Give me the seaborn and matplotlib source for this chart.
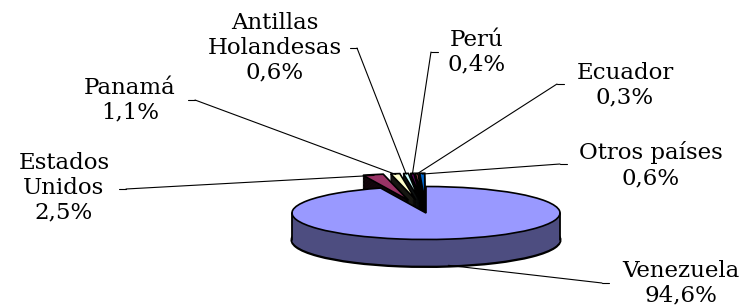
import matplotlib
matplotlib.use("Agg")
import matplotlib.pyplot as plt
import seaborn as sns
import numpy as np
from matplotlib.colors import to_rgb

sns.set_theme(style="white")
plt.rcParams['font.family'] = ['DejaVu Serif']

# data
countries = ["Venezuela", "Estados\nUnidos", "Panamá", "Antillas\nHolandesas",
             "Perú", "Ecuador", "Otros países"]
shares = [94.6, 2.5, 1.1, 0.6, 0.4, 0.3, 0.6]
pct_labels = ["94,6%", "2,5%", "1,1%", "0,6%", "0,4%", "0,3%", "0,6%"]
slice_colors = ["#9999FF", "#993366", "#FFFFCC", "#CCFFFF", "#660066", "#FF8080", "#0066CC"]
pulled_out = [0, 0.5, 0.5, 0.5, 0.5, 0.5, 0.5]

# label layout, in pixels of the 745x307 picture
label_xy = [(681, 283), (64, 188), (130, 100), (275, 48), (477, 52), (625, 85), (651, 165)]
leader_start = [(609, 283), (119, 189), (188, 100), (350, 48), (438, 52), (564, 84), (567, 164)]

W, H = 745, 307
CX, CY, SX, SY = 426, 213, 134, 26.5   # pie centre and radii in pixels
DEPTH = 27 / SY

fig = plt.figure(figsize=(W / 100, H / 100), dpi=100)
ax = fig.add_axes([0, 0, 1, 1])

side_colors = [tuple(c * 0.5 for c in to_rgb(col)) for col in slice_colors]
pie_kw = dict(startangle=90, counterclock=False, explode=pulled_out, radius=1)

# side of the "3D" pie: stacked layers, bottom first
layers = np.linspace(DEPTH, 0, 36)
for i, h in enumerate(layers):
    if i == 0:
        wp = dict(linewidth=2.2, edgecolor="black")
    else:
        wp = dict(linewidth=0, edgecolor="none")
    wedges, _ = ax.pie(shares, colors=side_colors, center=(0, -h), wedgeprops=wp, **pie_kw)
    if i > 0:
        # the pulled-out slices get outlined faces, as in Excel
        for w, e in zip(wedges, pulled_out):
            if e > 0:
                w.set_edgecolor("black")
                w.set_linewidth(0.5)

# silhouette lines of the side
for sx in (-1, 1):
    ax.plot([sx, sx], [0, -DEPTH], color="black", lw=1.3)

# top face
ax.pie(shares, colors=slice_colors, center=(0, 0),
       wedgeprops=dict(linewidth=1.2, edgecolor="black"), **pie_kw)

ax.set_aspect("auto")
ax.set_xlim(-CX / SX, (W - CX) / SX)
ax.set_ylim(-(H - CY) / SY, CY / SY)
ax.axis("off")

# labels with leader lines
total = sum(shares)
start = 0.0
for k in range(len(shares)):
    mid = start + shares[k] / 2
    start += shares[k]
    theta = np.deg2rad(90 - 360 * mid / total)
    r = 0.97 + pulled_out[k]
    px, py = r * np.cos(theta), r * np.sin(theta)
    if py < 0:
        py -= DEPTH

    lx, ly = leader_start[k]
    step = 7 if lx < CX else -7
    ax.plot([lx / W, (lx + step) / W], [1 - ly / H, 1 - ly / H],
            transform=ax.transAxes, color="black", lw=0.8)
    ax.annotate("", xy=(px, py), xycoords="data",
                xytext=((lx + step) / W, 1 - ly / H), textcoords="axes fraction",
                arrowprops=dict(arrowstyle="-", color="black", lw=0.8,
                                shrinkA=0, shrinkB=0))

    tx, ty = label_xy[k]
    ax.text(tx / W, 1 - ty / H, countries[k] + "\n" + pct_labels[k],
            transform=ax.transAxes, ha="center", va="center",
            multialignment="center", fontsize=16.5, linespacing=1.17,
            color="black")

fig.savefig("out.png", dpi=100)
